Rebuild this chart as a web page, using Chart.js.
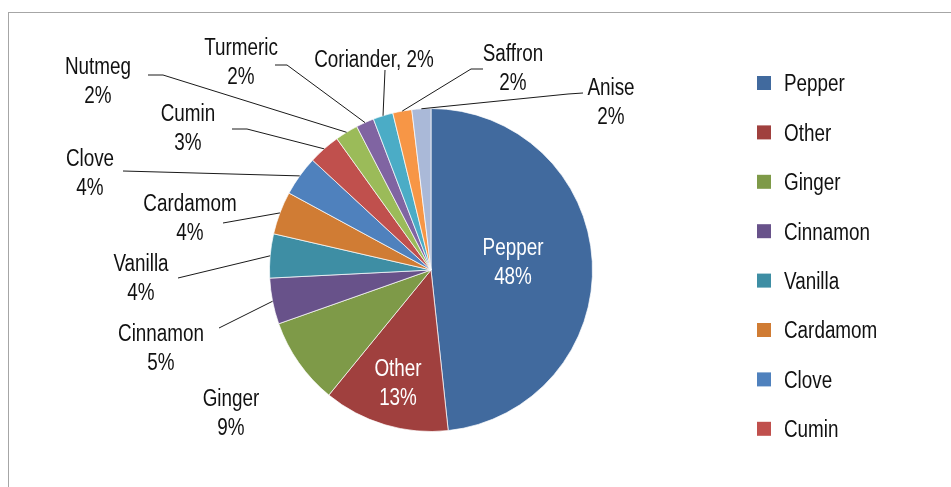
<!DOCTYPE html>
<html>
<head>
<meta charset="utf-8">
<script src="https://cdn.jsdelivr.net/npm/chart.js@4/dist/chart.umd.min.js"></script>
<style>
  html, body { margin: 0; padding: 0; background: #fff; overflow: hidden; }
  canvas { display: block; }
</style>
</head>
<body>
<canvas id="spiceChart" width="951" height="487"></canvas>
<script>
// Data
const spices = ['Pepper', 'Other', 'Ginger', 'Cinnamon', 'Vanilla', 'Cardamom', 'Clove',
  'Cumin', 'Nutmeg', 'Turmeric', 'Coriander', 'Saffron', 'Anise'];
const shares = [48.3, 12.6, 8.7, 4.6, 4.4, 4.3, 4.0, 3.2, 2.3, 1.8, 2.0, 1.9, 1.9];
const colors = ['#416A9E', '#A0403E', '#7E9A48', '#68528A', '#3E8EA4', '#D07C34', '#4F81BD',
  '#C0504D', '#9BBB59', '#8064A2', '#4BACC6', '#F79646', '#AAB9D8'];
const legendCount = 8; // legend is cut off after Cumin

// Label layout: centre of first text line, optional leader start (+ elbow)
const labelLayout = [
  { x: 513, y: 247, inside: true },
  { x: 398, y: 368, inside: true },
  { x: 231, y: 398 },
  { x: 161, y: 333, leader: [[219, 328]] },
  { x: 141, y: 263, leader: [[178, 278]] },
  { x: 190, y: 203, leader: [[223, 223]] },
  { x: 90, y: 158, leader: [[123, 171]] },
  { x: 188, y: 113, leader: [[232, 129], [247, 129]] },
  { x: 98, y: 66, leader: [[148, 75], [163, 75]] },
  { x: 241, y: 47, leader: [[275, 65], [287, 65]] },
  { x: 374, y: 59, oneLine: true, leader: [[385, 70]] },
  { x: 513, y: 53, leader: [[483, 69], [471, 69]] },
  { x: 611, y: 87, leader: [[583, 93], [568, 94]] }
];

// condensed look: Liberation Sans squeezed horizontally
const FONT = '23px "Liberation Sans", Arial, sans-serif';
const SQUEEZE = 0.82;
const LINE_GAP = 29;
const TEXT_NUDGE = 2; // canvas 'middle' sits a bit high for this face

const total = shares.reduce((a, b) => a + b, 0);
const pctText = i => Math.round(shares[i] / total * 100) + '%';

function narrowText(ctx, text, x, y) {
  ctx.save();
  ctx.translate(x, y + TEXT_NUDGE);
  ctx.scale(SQUEEZE, 1);
  ctx.fillText(text, 0, 0);
  ctx.restore();
}

const framePlugin = {
  id: 'frame',
  beforeDraw(chart) {
    const ctx = chart.ctx;
    ctx.save();
    ctx.fillStyle = '#fff';
    ctx.fillRect(0, 0, chart.width, chart.height);
    ctx.strokeStyle = '#a6a6a6';
    ctx.lineWidth = 1;
    ctx.strokeRect(8.5, 12.5, 1200, 1200);
    ctx.restore();
  }
};

const labelPlugin = {
  id: 'sliceLabels',
  afterDraw(chart) {
    const ctx = chart.ctx;
    const arcs = chart.getDatasetMeta(0).data;
    ctx.save();
    ctx.font = FONT;
    ctx.textAlign = 'center';
    ctx.textBaseline = 'middle';
    arcs.forEach((arc, i) => {
      const lay = labelLayout[i];
      if (lay.leader) {
        const mid = (arc.startAngle + arc.endAngle) / 2;
        const ex = arc.x + Math.cos(mid) * arc.outerRadius;
        const ey = arc.y + Math.sin(mid) * arc.outerRadius;
        ctx.strokeStyle = '#1a1a1a';
        ctx.lineWidth = 1;
        ctx.beginPath();
        lay.leader.forEach((p, k) => k ? ctx.lineTo(p[0], p[1]) : ctx.moveTo(p[0], p[1]));
        ctx.lineTo(ex, ey);
        ctx.stroke();
      }
      ctx.fillStyle = lay.inside ? '#ffffff' : '#111111';
      if (lay.oneLine) {
        narrowText(ctx, spices[i] + ', ' + pctText(i), lay.x, lay.y);
      } else {
        narrowText(ctx, spices[i], lay.x, lay.y);
        narrowText(ctx, pctText(i), lay.x, lay.y + LINE_GAP);
      }
    });

    // Legend (right side)
    ctx.textAlign = 'left';
    for (let i = 0; i < legendCount; i++) {
      const cy = 83 + i * 49.4;
      ctx.fillStyle = colors[i];
      ctx.fillRect(757, cy - 7, 14, 14);
      ctx.fillStyle = '#111111';
      narrowText(ctx, spices[i], 784, cy);
    }
    ctx.restore();
  }
};

new Chart(document.getElementById('spiceChart'), {
  type: 'pie',
  data: {
    labels: spices,
    datasets: [{
      data: shares,
      backgroundColor: colors,
      borderColor: 'rgba(255,255,255,0.7)',
      borderWidth: 1
    }]
  },
  options: {
    responsive: false,
    animation: false,
    layout: { padding: { left: 269, right: 358, top: 108, bottom: 55 } },
    plugins: {
      legend: { display: false },
      tooltip: { enabled: false }
    }
  },
  plugins: [framePlugin, labelPlugin]
});
</script>
</body>
</html>
